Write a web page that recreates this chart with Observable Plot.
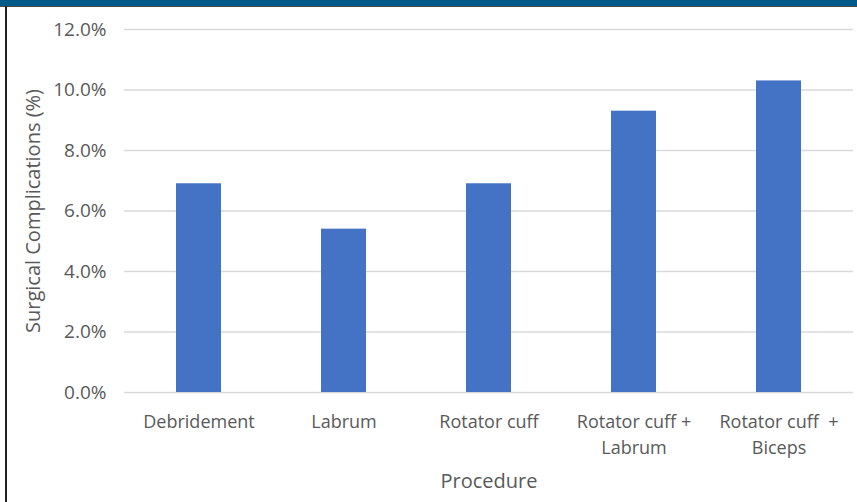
<!DOCTYPE html>
<html>
<head>
<meta charset="utf-8">
<script src="https://cdn.jsdelivr.net/npm/d3@7"></script>
<script src="https://cdn.jsdelivr.net/npm/@observablehq/plot@0.6"></script>
<style>
  html, body { margin: 0; padding: 0; background: #fff; }
  #wrap { position: relative; width: 857px; height: 502px; overflow: hidden; }
  #band { position: absolute; left: 0; top: 0; width: 857px; height: 6px; background: #005a87; border-bottom: 1.5px solid #4a4a4a; }
  #edge { position: absolute; left: 5px; top: 6px; width: 1.5px; height: 496px; background: #222; }
  #chart svg { display: block; }
</style>
</head>
<body>
<div id="wrap">
  <div id="chart"></div>
  <div id="band"></div>
  <div id="edge"></div>
</div>
<script>
// Complication rate by arthroscopic procedure
const procedures = ["Debridement", "Labrum", "Rotator cuff", "Rotator cuff + Labrum", "Rotator cuff + Biceps"];
const tickLabels = ["Debridement", "Labrum", "Rotator cuff", "Rotator cuff +\nLabrum", "Rotator cuff  +\nBiceps"];
const complications = [6.9, 5.4, 6.9, 9.3, 10.3];
const yTicks = [0, 2, 4, 6, 8, 10, 12];

const rows = procedures.map((p, i) => ({procedure: p, value: complications[i]}));
const labelOf = new Map(procedures.map((p, i) => [p, tickLabels[i]]));

const font = "'Open Sans', 'Liberation Sans', sans-serif";

const chart = Plot.plot({
  width: 857,
  height: 502,
  marginTop: 29,
  marginBottom: 110,
  marginLeft: 124,
  marginRight: 4,
  style: {fontFamily: font, fontSize: "18px", color: "#595959", background: "#fff"},
  x: {domain: procedures, paddingInner: 0.69, paddingOuter: 0.345, align: 0.5, label: null},
  y: {domain: [0, 12], label: null},
  marks: [
    Plot.ruleY(yTicks, {stroke: "#d9d9d9", strokeWidth: 1.5}),
    Plot.barY(rows, {x: "procedure", y: "value", fill: "#4472c4"}),
    Plot.axisY({
      ticks: yTicks, tickSize: 0, tickPadding: 18,
      tickFormat: d => d.toFixed(1) + "%",
      fontSize: 19, fill: "#595959", label: null
    }),
    Plot.axisX({
      tickSize: 0, tickPadding: 17,
      tickFormat: d => labelOf.get(d),
      fontSize: 18, fill: "#595959", lineHeight: 1.45, label: null
    }),
    Plot.text(["Procedure"], {
      frameAnchor: "bottom", dy: 95, text: d => d,
      fontSize: 20, fill: "#595959"
    }),
    Plot.text(["Surgical Complications (%)"], {
      frameAnchor: "left", textAnchor: "middle", dx: -91, rotate: -90, text: d => d,
      fontSize: 20, fill: "#595959"
    })
  ]
});

document.getElementById("chart").append(chart);
</script>
</body>
</html>
